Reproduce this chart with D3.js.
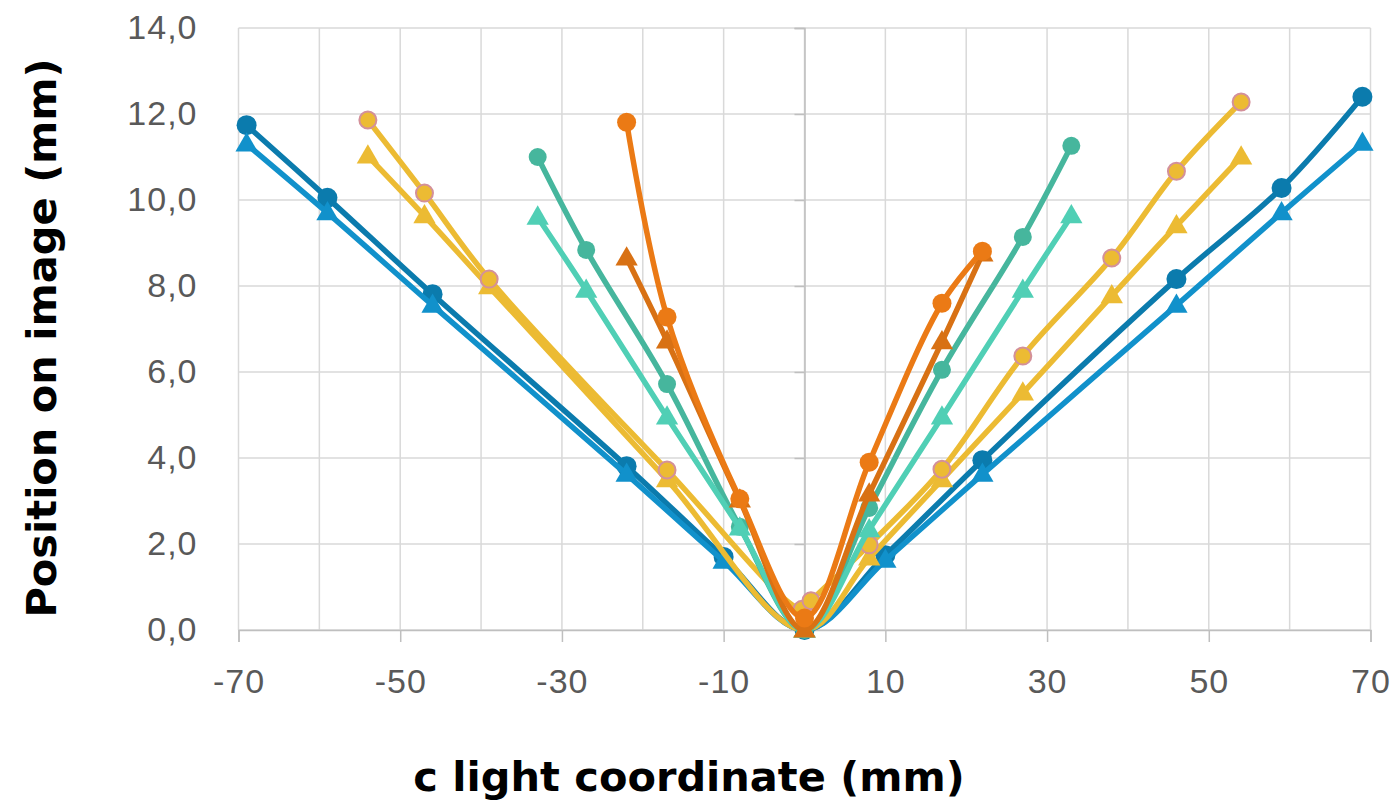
<!DOCTYPE html>
<html>
<head>
<meta charset="utf-8">
<script src="https://cdn.jsdelivr.net/npm/d3@7"></script>
<style>
  body { margin: 0; background: #fff; }
  svg { display: block; }
</style>
</head>
<body>
<div class="main"></div>
<script>
// x in mm, y in mm
let blueCircX = [-69, -59, -46, -22, -10, 0, 10, 22, 46, 59, 69]
let blueCircY = [11.74, 10.05, 7.81, 3.81, 1.70, 0, 1.74, 3.95, 8.16, 10.28, 12.4]
let blueTriX = [-69, -59, -46, -22, -10, 0, 10, 22, 46, 59, 69]
let blueTriY = [11.3, 9.7, 7.55, 3.62, 1.6, 0, 1.62, 3.62, 7.55, 9.7, 11.32]
let yelCircX = [-54, -47, -39, -17, -0.3, 0.8, 8, 17, 27, 38, 46, 54]
let yelCircY = [11.86, 10.16, 8.16, 3.72, 0.48, 0.68, 1.98, 3.74, 6.37, 8.65, 10.67, 12.28]
let yelTriX = [-54, -47, -39, -17, 0, 8, 17, 27, 38, 46, 54]
let yelTriY = [11.02, 9.63, 7.98, 3.49, 0, 1.67, 3.49, 5.51, 7.77, 9.4, 11.0]
let tealCircX = [-33, -27, -17, -8, 0, 8, 17, 27, 33]
let tealCircY = [11.0, 8.84, 5.72, 2.4, 0, 2.84, 6.05, 9.14, 11.26]
let turqTriX = [-33, -27, -17, -8, 0, 8, 17, 27, 33]
let turqTriY = [9.6, 7.9, 4.95, 2.37, 0, 2.33, 4.95, 7.9, 9.63]
let oraCircX = [-22, -17, -8, 0, 8, 17, 22]
let oraCircY = [11.81, 7.28, 3.05, 0.28, 3.9, 7.6, 8.81]
let oraTriX = [-22, -17, -8, 0, 8, 17, 22]
let oraTriY = [8.65, 6.72, 3.02, 0, 3.16, 6.7, 8.74]

let xTickVals = [-70, -50, -30, -10, 10, 30, 50, 70]
let xGridVals = d3.range(-70, 71, 10)
let yTickVals = [0, 2, 4, 6, 8, 10, 12, 14]

let series = [
  {x: blueCircX, y: blueCircY, color: '#0b7bad', shape: 'circle', r: 10},
  {x: blueTriX, y: blueTriY, color: '#1191cb', shape: 'tri'},
  {x: yelTriX, y: yelTriY, color: '#ecbb33', shape: 'tri'},
  {x: yelCircX, y: yelCircY, color: '#ecbb33', shape: 'circle', r: 8.5, stroke: '#d3909a'},
  {x: tealCircX, y: tealCircY, color: '#46b69d', shape: 'circle', r: 9},
  {x: turqTriX, y: turqTriY, color: '#50cfb5', shape: 'tri'},
  {x: oraTriX, y: oraTriY, color: '#d87114', shape: 'tri'},
  {x: oraCircX, y: oraCircY, color: '#eb7a15', shape: 'circle', r: 9.5}
]

let width = 1399, height = 800
let svg = d3.select('.main').append('svg').attr('width', width).attr('height', height)
  .style('font-family', '"DejaVu Sans", sans-serif')

let xScale = d3.scaleLinear().domain([-70, 70]).range([238.5, 1370.5])
let yScale = d3.scaleLinear().domain([0, 14]).range([630, 28])

// grid
svg.append('g').selectAll('line').data(xGridVals).enter().append('line')
  .attr('x1', d => xScale(d)).attr('x2', d => xScale(d))
  .attr('y1', yScale(14)).attr('y2', yScale(0))
  .attr('stroke', '#d9d9d9').attr('stroke-width', 1.5)
svg.append('g').selectAll('line').data(yTickVals).enter().append('line')
  .attr('x1', xScale(-70)).attr('x2', xScale(70))
  .attr('y1', d => yScale(d)).attr('y2', d => yScale(d))
  .attr('stroke', '#d9d9d9').attr('stroke-width', 1.5)

// x axis along y=0 with tick marks downward
let xAxis = d3.axisBottom(xScale).tickValues(xTickVals).tickSize(12).tickPadding(27)
  .tickFormat(d => String(d))
let gx = svg.append('g').attr('transform', `translate(0, ${yScale(0)})`).call(xAxis)
gx.select('.domain').attr('stroke', '#bfbfbf').attr('stroke-width', 1.5)
gx.selectAll('.tick line').attr('stroke', '#bfbfbf').attr('stroke-width', 1.5)
gx.selectAll('.tick text').attr('fill', '#595959').style('font-size', '34px')
  .style('letter-spacing', '1px')

// vertical axis line crossing at x=0
let yAxisLine = d3.axisLeft(yScale).tickValues(yTickVals).tickSize(10).tickFormat('')
let gy0 = svg.append('g').attr('transform', `translate(${xScale(0)}, 0)`).call(yAxisLine)
gy0.select('.domain').attr('stroke', '#bfbfbf').attr('stroke-width', 1.5)
gy0.selectAll('.tick line').attr('stroke', '#bfbfbf').attr('stroke-width', 1.5)

// y labels on the left of the plot
let yLab = d3.axisLeft(yScale).tickValues(yTickVals).tickSize(0).tickPadding(41)
  .tickFormat(d => d3.format('.1f')(d).replace('.', ','))
let gy = svg.append('g').attr('transform', `translate(${xScale(-70)}, 0)`).call(yLab)
gy.select('.domain').remove()
gy.selectAll('.tick text').attr('fill', '#595959').style('font-size', '34px')
  .style('letter-spacing', '1px')

// series
let line = d3.line().x(d => xScale(d[0])).y(d => yScale(d[1])).curve(d3.curveCatmullRom.alpha(0.5))
let tri = d3.symbol().type(d3.symbolTriangle).size(215)

series.forEach(s => {
  let pts = s.x.map((v, i) => [v, s.y[i]])
  svg.append('path').datum(pts).attr('d', line)
    .attr('fill', 'none').attr('stroke', s.color).attr('stroke-width', 5.5)
    .attr('stroke-linejoin', 'round')
  let g = svg.append('g')
  if (s.shape === 'circle') {
    g.selectAll('circle').data(pts).enter().append('circle')
      .attr('cx', d => xScale(d[0])).attr('cy', d => yScale(d[1]))
      .attr('r', s.r).attr('fill', s.color)
      .attr('stroke', s.stroke || 'none').attr('stroke-width', s.stroke ? 2 : 0)
  } else {
    g.selectAll('path').data(pts).enter().append('path')
      .attr('d', tri)
      .attr('transform', d => `translate(${xScale(d[0])}, ${yScale(d[1]) + 1})`)
      .attr('fill', s.color)
  }
})

// axis titles
svg.append('text')
  .attr('x', 689).attr('y', 791)
  .attr('text-anchor', 'middle')
  .style('font-size', '41.5px').style('font-weight', 'bold').attr('fill', '#000')
  .text('c light coordinate (mm)')

svg.append('text')
  .attr('transform', 'translate(56, 338) rotate(-90)')
  .attr('text-anchor', 'middle')
  .style('font-size', '41.5px').style('font-weight', 'bold').attr('fill', '#000')
  .text('Position on image (mm)')
</script>
</body>
</html>
